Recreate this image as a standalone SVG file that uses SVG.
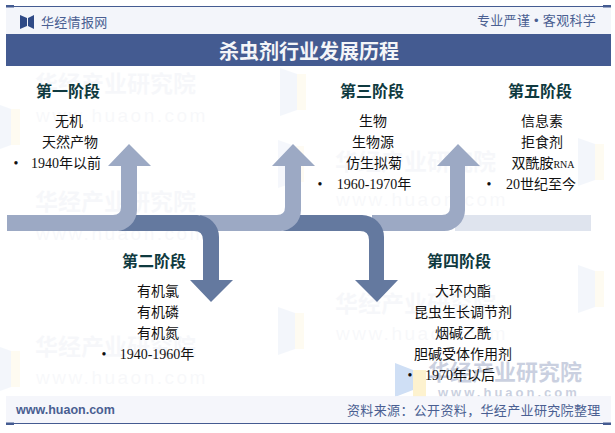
<svg xmlns="http://www.w3.org/2000/svg" width="615" height="433" viewBox="0 0 615 433">
<style>
text{font-family:"Liberation Serif","Noto Sans CJK SC",serif}
.h{font-size:16px;font-weight:700;fill:#0f3a40;text-anchor:middle}
.t{font-size:14px;fill:#111;text-anchor:middle}
.s{font-family:"Liberation Sans","Noto Sans CJK SC",sans-serif}
.wm{font-family:"Noto Sans CJK SC",sans-serif;font-size:23px;font-weight:700;fill:#445b91;opacity:.04}
.wu{font-family:"Liberation Sans",sans-serif;font-size:19px;letter-spacing:2.5px;fill:#445b91;opacity:.035}
.l{fill:#9ca9c4}.d{fill:#64799f}
</style>
<defs>
<g id="mark"><path d="M0 0l17 6v36l-17 6z" fill="#dfe8f6"/><path d="M17 6h9v36h-9z" fill="#fdf4d8"/></g>
</defs>
<rect width="615" height="433" fill="#fff"/>
<g id="watermarks">
<use href="#mark" x="280" y="68" opacity=".35"/>
<use href="#mark" x="-6" y="103" opacity=".35"/>
<use href="#mark" x="578" y="138" opacity=".35"/>
<use href="#mark" x="278" y="140" opacity=".3"/>
<use href="#mark" x="-6" y="345" opacity=".35"/>
<use href="#mark" x="278" y="307" opacity=".35"/>
<use href="#mark" x="578" y="265" opacity=".35"/>
<text class="wm" x="35" y="92">华经产业研究院</text>
<text class="wu" x="36" y="122">www.huaon.com</text>
<text class="wm" x="35" y="210">华经产业研究院</text>
<text class="wu" x="36" y="240">www.huaon.com</text>
<text class="wm" x="35" y="355">华经产业研究院</text>
<text class="wu" x="36" y="384">www.huaon.com</text>
<text class="wm" x="335" y="170">华经产业研究院</text>
<text class="wu" x="336" y="206">www.huaon.com</text>
<text class="wm" x="335" y="312">华经产业研究院</text>
<text class="wu" x="336" y="340">www.huaon.com</text>
<path d="M395 363l18 7v20l-18 7z" fill="#cfdff5"/>
<path d="M413 370h13v27h-13z" fill="#fdf2cf"/>
<text x="428" y="380" style="font-family:'Noto Sans CJK SC',sans-serif;font-size:22px;font-weight:700;fill:#445b91;opacity:.28">华经产业研究院</text>
<text x="438" y="397" style="font-family:'Liberation Sans',sans-serif;font-size:13px;font-weight:700;letter-spacing:3px;fill:#445b91;opacity:.28">www.huaon.com</text>
</g>
<g id="header">
<rect x="6" y="6" width="605" height="28" fill="#f3f5fa"/>
<rect x="6" y="6" width="605" height="1" fill="#445b91"/>
<rect x="6" y="5" width="8" height="2.5" fill="#445b91"/>
<rect x="603" y="5" width="8" height="2.5" fill="#445b91"/>
<path d="M20 15l7 3v8l-7 3z M34 15l-6 3v8l6 3z" fill="#2f4a86"/>
<text class="s" x="41" y="27" font-size="13" fill="#4a5f92" letter-spacing=".3">华经情报网</text>
<text class="s" x="477" y="25" font-size="13" fill="#4a5f92" letter-spacing=".3">专业严谨 • 客观科学</text>
<rect x="6" y="34" width="605" height="32" fill="#445b91"/>
<text x="309" y="59" font-size="20" font-weight="700" fill="#f4f5f8" text-anchor="middle">杀虫剂行业发展历程</text>
</g>
<g id="connectors">
<rect x="455" y="215" width="136" height="16" fill="#dfe4ee"/>
<path class="l" d="M372 215H442Q450 215 450 207V166H437L458 144L480 166H465V210A21 21 0 0 1 444 231H372Z"/>
<path class="d" d="M283 231L296 215H362A22 22 0 0 1 384 237V280H398L377 302L355 280H369V240Q369 231 360 231Z"/>
<path class="l" d="M200 215H277Q285 215 285 207V166H272L293 144L315 166H301V210A21 21 0 0 1 280 231H200Z"/>
<path class="d" d="M118 231L131 215H197A22 22 0 0 1 219 237V280H233L211 302L190 280H203V240Q203 231 194 231Z"/>
<path class="l" d="M7 215H113Q121 215 121 207V166H108L129 144L151 166H137V210A21 21 0 0 1 116 231H7Z"/>
</g>
<g id="stage1">
<text class="h" x="68" y="97">第一阶段</text>
<text class="t" x="69" y="126">无机</text>
<text class="t" x="70" y="147">天然产物</text>
<text class="t" x="16" y="168">•</text>
<text class="t" x="66" y="168">1940年以前</text>
</g>
<g id="stage2">
<text class="h" x="154" y="267">第二阶段</text>
<text class="t" x="158" y="296">有机氯</text>
<text class="t" x="158" y="317">有机磷</text>
<text class="t" x="158" y="338">有机氮</text>
<text class="t" x="104" y="359">•</text>
<text class="t" x="157" y="359">1940-1960年</text>
</g>
<g id="stage3">
<text class="h" x="372" y="97">第三阶段</text>
<text class="t" x="373" y="126">生物</text>
<text class="t" x="373" y="147">生物源</text>
<text class="t" x="374" y="168">仿生拟菊</text>
<text class="t" x="320" y="189">•</text>
<text class="t" x="374" y="189">1960-1970年</text>
</g>
<g id="stage4">
<text class="h" x="459" y="267">第四阶段</text>
<text class="t" x="463" y="296">大环内酯</text>
<text class="t" x="463" y="317">昆虫生长调节剂</text>
<text class="t" x="463" y="338">烟碱乙酰</text>
<text class="t" x="463" y="359">胆碱受体作用剂</text>
<text class="t" x="410" y="380">•</text>
<text class="t" x="460" y="380">1970年以后</text>
</g>
<g id="stage5">
<text class="h" x="540" y="97">第五阶段</text>
<text class="t" x="542" y="126">信息素</text>
<text class="t" x="542" y="147">拒食剂</text>
<text class="t" x="543" y="168">双酰胺<tspan font-size="10">RNA</tspan></text>
<text class="t" x="489" y="189">•</text>
<text class="t" x="541" y="189">20世纪至今</text>
</g>
<g id="footer">
<rect x="6" y="396" width="605" height="27" fill="#f3f5fa" fill-opacity=".85"/>
<rect x="6" y="423" width="605" height="1" fill="#445b91"/>
<rect x="6" y="422.5" width="8" height="2.5" fill="#445b91"/>
<rect x="603" y="422.5" width="8" height="2.5" fill="#445b91"/>
<text class="s" x="16" y="414" font-size="12.5" font-weight="700" fill="#4a5f92">www.huaon.com</text>
<text class="s" x="347" y="415" font-size="13" fill="#4a5f92" letter-spacing=".35">资料来源：公开资料，华经产业研究院整理</text>
</g>
</svg>
